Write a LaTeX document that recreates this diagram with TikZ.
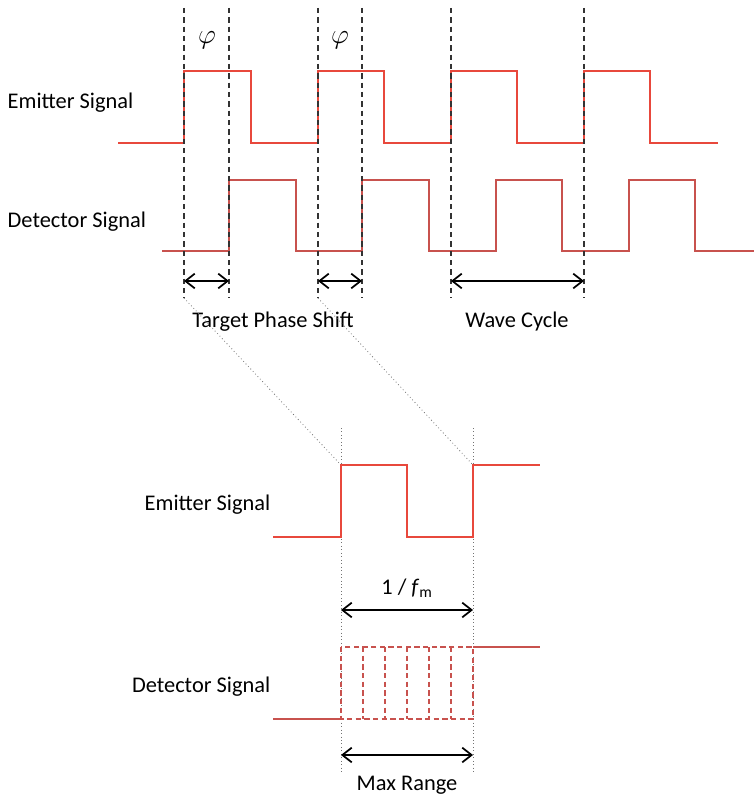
\documentclass[tikz,border=0pt]{standalone}
\usepackage{fontspec}
\setmainfont{Carlito}
\usepackage{tikz}
\usetikzlibrary{arrows.meta}

\definecolor{emitred}{RGB}{232,72,60}
\definecolor{detred}{RGB}{200,82,78}

\begin{document}
\begin{tikzpicture}[x=0.75pt, y=-0.75pt, font=\fontsize{16.8}{19}\selectfont,
    emit/.style={emitred, line width=1.3pt},
    detect/.style={detred, line width=1.3pt},
    guide/.style={black!80, line width=0.9pt, dash pattern=on 4pt off 3pt},
    link/.style={black!55, line width=0.6pt, dotted},
    spread/.style={detred, line width=0.9pt, dash pattern=on 4pt off 2.5pt},
    span/.style={line width=1.3pt, {Straight Barb[length=7pt,width=11pt]}-{Straight Barb[length=7pt,width=11pt]}}]
    \useasboundingbox (0,0) rectangle (754,799);

    % Obere Darstellung: Sender und Empfänger
    \node[anchor=west] (emitA) at (3,103) {Emitter Signal};
    \node[anchor=west] (detA) at (3,222) {Detector Signal};

    \draw[emit] (118,143) -- (184,143) -- (184,71) -- (251,71) -- (251,143) -- (318,143)
        -- (318,71) -- (384,71) -- (384,143) -- (451,143) -- (451,71) -- (517,71)
        -- (517,143) -- (584,143) -- (584,71) -- (650,71) -- (650,143) -- (718,143);
    \draw[detect] (162,251) -- (229,251) -- (229,180) -- (296,180) -- (296,251) -- (362,251)
        -- (362,180) -- (429,180) -- (429,251) -- (496,251) -- (496,180) -- (562,180)
        -- (562,251) -- (629,251) -- (629,180) -- (695,180) -- (695,251) -- (754,251);

    % Hilfslinien
    \draw[guide] (184,8) coordinate (gA) -- (184,298) coordinate (gAb);
    \draw[guide] (229,8) -- (229,298) coordinate (gBb);
    \draw[guide] (318,8) coordinate (gC) -- (318,298) coordinate (gCb);
    \draw[guide] (362,8) -- (362,298) coordinate (gDb);
    \draw[guide] (451,8) -- (451,298);
    \draw[guide] (584,8) -- (584,298);

    \node[font=\fontsize{21}{23}\selectfont] (phiA) at (207,40) {$\varphi$};
    \node[font=\fontsize{21}{23}\selectfont] (phiB) at (340,40) {$\varphi$};

    % Phasenverschiebung und Periode
    \coordinate (sA1) at (184,281); \coordinate (sA2) at (229,281);
    \coordinate (sB1) at (318,281); \coordinate (sB2) at (362,281);
    \coordinate (cyc1) at (451,281); \coordinate (cyc2) at (584,281);
    \draw[span] (sA1) -- (sA2);
    \draw[span] (sB1) -- (sB2);
    \draw[span] (cyc1) -- (cyc2);
    \node (shift) at (273,322) {Target Phase Shift};
    \node (cycle) at (517,322) {Wave Cycle};

    % Untere Darstellung: Vergrößerung
    \coordinate (zA) at (341,465);
    \coordinate (zB) at (473,465);
    \draw[link] (gAb) -- (zA);
    \draw[link] (gCb) -- (zB);
    \draw[link] (341,428) -- (341,772);
    \draw[link] (473,428) -- (473,772);

    \node[anchor=east] (emitB) at (275,505) {Emitter Signal};
    \node[anchor=east] (detB) at (275,687) {Detector Signal};

    \draw[emit] (273,537) -- (341,537) -- (341,465) -- (407,465) -- (407,537) -- (473,537)
        -- (473,465) -- (540,465);

    \coordinate (fm1) at (341,610); \coordinate (fm2) at (473,610);
    \draw[span] (fm1) -- (fm2);
    \node (period) at (407,588) {1 / \textit{f}\textsubscript{m}};

    % Empfänger: möglicher Bereich
    \draw[detect] (273,719) -- (341,719);
    \draw[detect] (473,647) -- (540,647);
    \draw[spread] (341,647) rectangle (473,719);
    \draw[spread] (363,647) -- (363,719);
    \draw[spread] (385,647) -- (385,719);
    \draw[spread] (407,647) -- (407,719);
    \draw[spread] (429,647) -- (429,719);
    \draw[spread] (451,647) -- (451,719);

    \coordinate (mr1) at (341,755); \coordinate (mr2) at (473,755);
    \draw[span] (mr1) -- (mr2);
    \node (maxrange) at (407,785) {Max Range};
\end{tikzpicture}
\end{document}
